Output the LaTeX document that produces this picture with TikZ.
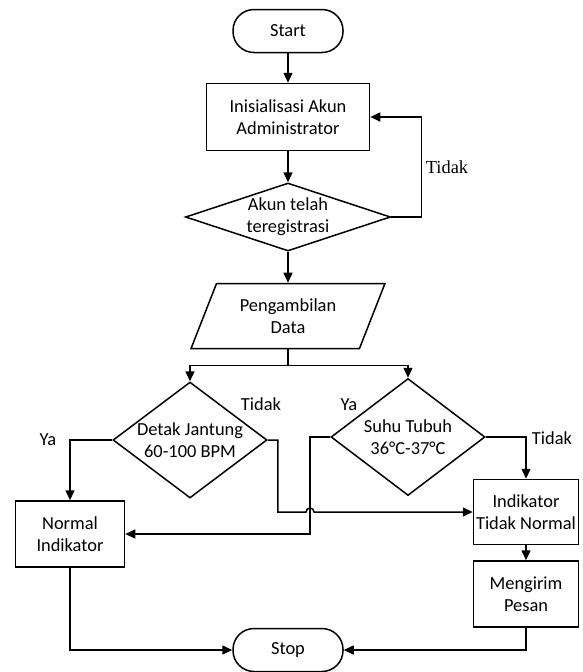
\documentclass[tikz,border=0pt]{standalone}
\usepackage{fontspec}
\setmainfont{Carlito}
\newfontfamily\tmsfont{Liberation Serif}
\usetikzlibrary{shapes.geometric,arrows.meta,calc}
\newcommand{\fcfont}{\fontsize{18.4}{22}\selectfont}
\tikzset{
  line/.style={draw, line width=1.5pt},
  flow/.style={line, -{Triangle[length=10pt,width=9pt]}},
  terminal/.style={line, rectangle, rounded corners=21pt, minimum width=110pt, minimum height=43pt},
  process/.style={line, rectangle, align=center, inner sep=0pt},
  decision/.style={line, diamond, inner sep=0pt},
  io/.style={line, trapezium, trapezium left angle=63.8, trapezium right angle=116.2, trapezium stretches=true, align=center, inner sep=0pt},
  txt/.style={align=center}
}
\begin{document}
\begin{tikzpicture}[x=1pt,y=-1pt,font=\fcfont]
        \useasboundingbox (0,0) rectangle (582,672);
        \node[terminal] (start) at (288,31) {Start};
        \node[process, minimum width=163pt, minimum height=67pt] (init) at (288,117) {Inisialisasi Akun\\Administrator};
        \node[decision, minimum width=205pt, minimum height=68pt, label={[txt]center:{Akun telah\\teregistrasi}}] (cek) at (288,217) {};
        \node[io, minimum width=194pt, minimum height=65pt] (data) at (288,316) {Pengambilan\\Data};
        \node[decision, minimum width=154pt, minimum height=116pt, label={[txt]center:{Detak Jantung\\60-100 BPM}}] (detak) at (190,440) {};
        \node[decision, minimum width=154pt, minimum height=117pt, label={[txt]center:{Suhu Tubuh\\36°C-37°C}}] (suhu) at (408,437) {};
        \node[process, minimum width=109pt, minimum height=66pt] (normal) at (70,534) {Normal\\Indikator};
        \node[process, minimum width=105pt, minimum height=65pt] (tdknormal) at (526,512) {Indikator\\Tidak Normal};
        \node[process, minimum width=105pt, minimum height=66pt] (kirim) at (526,594) {Mengirim\\Pesan};
        \node[terminal] (stop) at (288,650) {Stop};

        \node (tidak0) at (447,167) {\tmsfont Tidak};
        \node (ya1) at (48,440) {Ya};
        \node (tidak1) at (261,404) {Tidak};
        \node (ya2) at (349,405) {Ya};
        \node (tidak2) at (552,438) {Tidak};

        \draw[flow] (start) -- (init);
        \draw[flow] (init) -- (cek);
        \draw[flow] (cek) -- (data);
        \draw[flow] (cek.east) -- ++(30,0) |- (init.east);
        \draw[line] (data.south) -- ++(0,16) coordinate (split);
        \draw[flow] (split) -| (detak.north);
        \draw[flow] (split) -| (suhu.north);
        \draw[flow] (detak.west) -| (normal.north);
        \coordinate (yax) at (310,0);
        \draw[flow] (suhu.west) -- (suhu.west -| yax) |- (normal.east);
        \draw[flow] (detak.east) -- ++(10,0) |- ($(tdknormal.west -| yax)+(-4,0)$) arc[start angle=180, end angle=360, radius=4] -- (tdknormal.west);
        \draw[flow] (suhu.east) -| (tdknormal.north);
        \draw[flow] (tdknormal) -- (kirim);
        \draw[flow] (normal.south) |- (stop.west);
        \draw[flow] (kirim.south) |- (stop.east);
\end{tikzpicture}
\end{document}
